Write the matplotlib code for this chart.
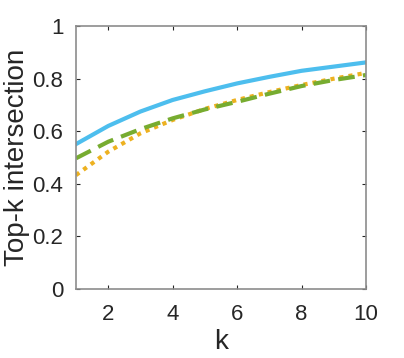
import matplotlib
matplotlib.use("Agg")
import matplotlib.pyplot as plt

plt.rcParams['font.family'] = ['Liberation Sans', 'DejaVu Sans']

k = [1, 2, 3, 4, 5, 6, 7, 8, 9, 10]
solid_blue = [0.551, 0.620, 0.675, 0.719, 0.752, 0.782, 0.807, 0.830, 0.846, 0.862]
dashed_green = [0.497, 0.560, 0.608, 0.649, 0.683, 0.712, 0.743, 0.772, 0.795, 0.814]
dotted_orange = [0.433, 0.522, 0.592, 0.643, 0.685, 0.719, 0.749, 0.776, 0.800, 0.822]

fig = plt.figure(figsize=(4.04, 3.58), dpi=100)
ax = fig.add_axes([0.188, 0.193, 0.718, 0.734])

ax.plot(k, dotted_orange, color='#EDB120', lw=3, linestyle=(0, (1, 1.2)))
ax.plot(k, dashed_green, color='#77AC30', lw=3, linestyle=(0, (4, 2)))
ax.plot(k, solid_blue, color='#4DBEEE', lw=3)

ax.set_xlim(1, 10)
ax.set_ylim(0, 1)
ax.set_xticks([2, 4, 6, 8, 10])
ax.set_yticks([0, 0.2, 0.4, 0.6, 0.8, 1])
ax.set_yticklabels(['0', '0.2', '0.4', '0.6', '0.8', '1'])
ax.tick_params(direction='in', top=True, right=True, labelsize=16, length=3,
               color='#262626', labelcolor='#262626')
ax.tick_params(axis='x', pad=11)
ax.tick_params(axis='y', pad=9)
for s in ax.spines.values():
    s.set_color('#8c8c8c')
    s.set_linewidth(1.2)
ax.set_xlabel('k', fontsize=20, color='#262626', labelpad=3)
ax.set_ylabel('Top-k intersection', fontsize=20, color='#262626', labelpad=2)

fig.savefig('out.png', dpi=100)
